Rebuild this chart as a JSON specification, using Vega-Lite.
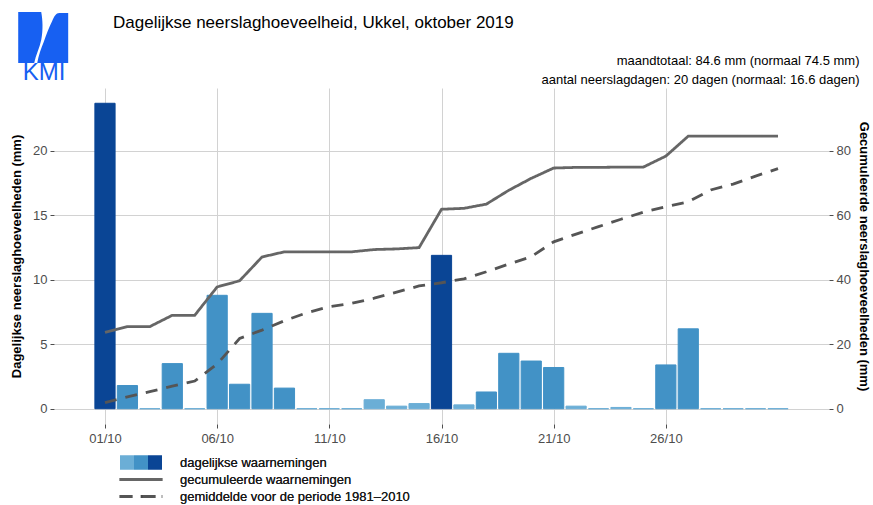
{
  "$schema": "https://vega.github.io/schema/vega-lite/v6.json",
  "width": 775,
  "height": 336,
  "autosize": {"type": "none"},
  "padding": {"left": 54, "top": 88, "right": 44, "bottom": 81},
  "background": "white",
  "title": {
    "text": "Dagelijkse neerslaghoeveelheid, Ukkel, oktober 2019",
    "anchor": "start",
    "frame": "group",
    "dx": 59,
    "dy": 3,
    "offset": -17,
    "fontSize": 17,
    "fontWeight": "normal",
    "font": "Liberation Sans",
    "color": "#000000"
  },
  "config": {
    "font": "Liberation Sans",
    "view": {"stroke": null},
    "axis": {
      "labelFont": "Liberation Sans",
      "labelFontSize": 13,
      "labelColor": "#4d4d4d",
      "tickColor": "#4d4d4d",
      "tickSize": 4,
      "domain": false,
      "titleFont": "Liberation Sans",
      "titleFontSize": 13,
      "titleFontWeight": "bold",
      "titleColor": "#000000",
      "gridColor": "#d2d2d2",
      "gridWidth": 1
    }
  },
  "datasets": {
    "dagen": [
      {"dag": 1, "neerslag": 23.7}, {"dag": 2, "neerslag": 1.8}, {"dag": 3, "neerslag": 0},
      {"dag": 4, "neerslag": 3.5}, {"dag": 5, "neerslag": 0}, {"dag": 6, "neerslag": 8.8},
      {"dag": 7, "neerslag": 1.9}, {"dag": 8, "neerslag": 7.4}, {"dag": 9, "neerslag": 1.6},
      {"dag": 10, "neerslag": 0}, {"dag": 11, "neerslag": 0}, {"dag": 12, "neerslag": 0},
      {"dag": 13, "neerslag": 0.7}, {"dag": 14, "neerslag": 0.2}, {"dag": 15, "neerslag": 0.4},
      {"dag": 16, "neerslag": 11.9}, {"dag": 17, "neerslag": 0.3}, {"dag": 18, "neerslag": 1.3},
      {"dag": 19, "neerslag": 4.3}, {"dag": 20, "neerslag": 3.7}, {"dag": 21, "neerslag": 3.2},
      {"dag": 22, "neerslag": 0.2}, {"dag": 23, "neerslag": 0}, {"dag": 24, "neerslag": 0.1},
      {"dag": 25, "neerslag": 0}, {"dag": 26, "neerslag": 3.4}, {"dag": 27, "neerslag": 6.2},
      {"dag": 28, "neerslag": 0}, {"dag": 29, "neerslag": 0}, {"dag": 30, "neerslag": 0},
      {"dag": 31, "neerslag": 0}
    ],
    "lijnen": [
      {"dag": 1, "reeks": "gecumuleerde waarnemingen", "waarde": 23.7},
      {"dag": 2, "reeks": "gecumuleerde waarnemingen", "waarde": 25.5},
      {"dag": 3, "reeks": "gecumuleerde waarnemingen", "waarde": 25.5},
      {"dag": 4, "reeks": "gecumuleerde waarnemingen", "waarde": 29.0},
      {"dag": 5, "reeks": "gecumuleerde waarnemingen", "waarde": 29.0},
      {"dag": 6, "reeks": "gecumuleerde waarnemingen", "waarde": 37.8},
      {"dag": 7, "reeks": "gecumuleerde waarnemingen", "waarde": 39.7},
      {"dag": 8, "reeks": "gecumuleerde waarnemingen", "waarde": 47.1},
      {"dag": 9, "reeks": "gecumuleerde waarnemingen", "waarde": 48.7},
      {"dag": 10, "reeks": "gecumuleerde waarnemingen", "waarde": 48.7},
      {"dag": 11, "reeks": "gecumuleerde waarnemingen", "waarde": 48.7},
      {"dag": 12, "reeks": "gecumuleerde waarnemingen", "waarde": 48.7},
      {"dag": 13, "reeks": "gecumuleerde waarnemingen", "waarde": 49.4},
      {"dag": 14, "reeks": "gecumuleerde waarnemingen", "waarde": 49.6},
      {"dag": 15, "reeks": "gecumuleerde waarnemingen", "waarde": 50.0},
      {"dag": 16, "reeks": "gecumuleerde waarnemingen", "waarde": 61.9},
      {"dag": 17, "reeks": "gecumuleerde waarnemingen", "waarde": 62.2},
      {"dag": 18, "reeks": "gecumuleerde waarnemingen", "waarde": 63.5},
      {"dag": 19, "reeks": "gecumuleerde waarnemingen", "waarde": 67.8},
      {"dag": 20, "reeks": "gecumuleerde waarnemingen", "waarde": 71.5},
      {"dag": 21, "reeks": "gecumuleerde waarnemingen", "waarde": 74.7},
      {"dag": 22, "reeks": "gecumuleerde waarnemingen", "waarde": 74.9},
      {"dag": 23, "reeks": "gecumuleerde waarnemingen", "waarde": 74.9},
      {"dag": 24, "reeks": "gecumuleerde waarnemingen", "waarde": 75.0},
      {"dag": 25, "reeks": "gecumuleerde waarnemingen", "waarde": 75.0},
      {"dag": 26, "reeks": "gecumuleerde waarnemingen", "waarde": 78.4},
      {"dag": 27, "reeks": "gecumuleerde waarnemingen", "waarde": 84.6},
      {"dag": 28, "reeks": "gecumuleerde waarnemingen", "waarde": 84.6},
      {"dag": 29, "reeks": "gecumuleerde waarnemingen", "waarde": 84.6},
      {"dag": 30, "reeks": "gecumuleerde waarnemingen", "waarde": 84.6},
      {"dag": 31, "reeks": "gecumuleerde waarnemingen", "waarde": 84.6},
      {"dag": 1, "reeks": "gemiddelde voor de periode 1981–2010", "waarde": 1.9},
      {"dag": 2, "reeks": "gemiddelde voor de periode 1981–2010", "waarde": 3.7},
      {"dag": 3, "reeks": "gemiddelde voor de periode 1981–2010", "waarde": 5.3},
      {"dag": 4, "reeks": "gemiddelde voor de periode 1981–2010", "waarde": 7.0},
      {"dag": 5, "reeks": "gemiddelde voor de periode 1981–2010", "waarde": 8.6},
      {"dag": 6, "reeks": "gemiddelde voor de periode 1981–2010", "waarde": 13.9},
      {"dag": 7, "reeks": "gemiddelde voor de periode 1981–2010", "waarde": 21.8},
      {"dag": 8, "reeks": "gemiddelde voor de periode 1981–2010", "waarde": 24.4},
      {"dag": 9, "reeks": "gemiddelde voor de periode 1981–2010", "waarde": 27.3},
      {"dag": 10, "reeks": "gemiddelde voor de periode 1981–2010", "waarde": 29.8},
      {"dag": 11, "reeks": "gemiddelde voor de periode 1981–2010", "waarde": 31.7},
      {"dag": 12, "reeks": "gemiddelde voor de periode 1981–2010", "waarde": 32.7},
      {"dag": 13, "reeks": "gemiddelde voor de periode 1981–2010", "waarde": 34.3},
      {"dag": 14, "reeks": "gemiddelde voor de periode 1981–2010", "waarde": 36.2},
      {"dag": 15, "reeks": "gemiddelde voor de periode 1981–2010", "waarde": 38.1},
      {"dag": 16, "reeks": "gemiddelde voor de periode 1981–2010", "waarde": 39.1},
      {"dag": 17, "reeks": "gemiddelde voor de periode 1981–2010", "waarde": 40.3},
      {"dag": 18, "reeks": "gemiddelde voor de periode 1981–2010", "waarde": 42.5},
      {"dag": 19, "reeks": "gemiddelde voor de periode 1981–2010", "waarde": 44.9},
      {"dag": 20, "reeks": "gemiddelde voor de periode 1981–2010", "waarde": 47.2},
      {"dag": 21, "reeks": "gemiddelde voor de periode 1981–2010", "waarde": 51.8},
      {"dag": 22, "reeks": "gemiddelde voor de periode 1981–2010", "waarde": 54.2},
      {"dag": 23, "reeks": "gemiddelde voor de periode 1981–2010", "waarde": 56.5},
      {"dag": 24, "reeks": "gemiddelde voor de periode 1981–2010", "waarde": 58.8},
      {"dag": 25, "reeks": "gemiddelde voor de periode 1981–2010", "waarde": 61.0},
      {"dag": 26, "reeks": "gemiddelde voor de periode 1981–2010", "waarde": 62.7},
      {"dag": 27, "reeks": "gemiddelde voor de periode 1981–2010", "waarde": 64.2},
      {"dag": 28, "reeks": "gemiddelde voor de periode 1981–2010", "waarde": 67.9},
      {"dag": 29, "reeks": "gemiddelde voor de periode 1981–2010", "waarde": 69.7},
      {"dag": 30, "reeks": "gemiddelde voor de periode 1981–2010", "waarde": 72.2},
      {"dag": 31, "reeks": "gemiddelde voor de periode 1981–2010", "waarde": 74.5}
    ]
  },
  "layer": [
    {
      "layer": [
        {
          "data": {"name": "dagen"},
          "mark": {"type": "bar", "width": 20.2, "strokeWidth": 1},
          "encoding": {
            "x": {
              "field": "dag", "type": "quantitative",
              "scale": {"domain": [-1.05, 33.05], "nice": false, "zero": false},
              "axis": {
                "orient": "bottom", "values": [1, 6, 11, 16, 21, 26],
                "labelExpr": "(datum.value < 10 ? '0' : '') + datum.value + '/10'",
                "title": null, "grid": true, "labelPadding": 4
              }
            },
            "y": {
              "field": "neerslag", "type": "quantitative",
              "scale": {"domain": [-1.185, 24.885], "nice": false, "zero": false},
              "axis": {
                "orient": "left", "values": [0, 5, 10, 15, 20],
                "title": "Dagelijkse neerslaghoeveelheden (mm)",
                "grid": true, "labelPadding": 3, "titlePadding": 9
              }
            },
            "color": {
              "field": "neerslag", "type": "quantitative",
              "scale": {"type": "threshold", "domain": [1, 10], "range": ["#6baed6", "#4292c6", "#0a4595"]},
              "legend": null
            },
            "stroke": {
              "field": "neerslag", "type": "quantitative",
              "scale": {"type": "threshold", "domain": [1, 10], "range": ["#6baed6", "#4292c6", "#0a4595"]},
              "legend": null
            }
          }
        },
        {
          "data": {"values": [{"logo": "KMI"}]},
          "mark": {"type": "point", "filled": true, "opacity": 1, "color": "#1760f2", "strokeWidth": 0,
            "shape": "M-0.98,-1L-0.078,-1C-0.02,-0.686,0,-0.294,-0.078,0.098C-0.137,0.412,-0.294,0.686,-0.353,1L-0.98,1Z M0.98,-0.961L0.98,1L-0.235,1C-0.176,0.686,-0.078,0.412,0.02,0.176C0.118,-0.098,0.235,-0.412,0.353,-0.647C0.431,-0.843,0.51,-0.961,0.627,-0.961Z",
            "size": 2601},
          "encoding": {
            "x": {"datum": -1.754, "type": "quantitative"},
            "y": {"datum": 28.8, "type": "quantitative"}
          }
        },
        {
          "data": {"values": [{"logo": "KMI"}]},
          "mark": {"type": "text", "color": "#1760f2", "fontSize": 24, "font": "Liberation Sans", "align": "center", "baseline": "alphabetic"},
          "encoding": {
            "x": {"datum": -1.72, "type": "quantitative"},
            "y": {"datum": 25.5, "type": "quantitative"},
            "text": {"field": "logo"}
          }
        }
      ]
    },
    {
      "data": {"name": "lijnen"},
      "mark": {"type": "line", "strokeWidth": 2.8, "strokeCap": "butt"},
      "encoding": {
        "x": {
          "field": "dag", "type": "quantitative",
          "scale": {"domain": [-1.05, 33.05], "nice": false, "zero": false},
          "axis": {
            "orient": "top", "labels": false, "ticks": false, "grid": false, "domain": false,
            "title": ["maandtotaal: 84.6 mm (normaal 74.5 mm)", "aantal neerslagdagen: 20 dagen (normaal: 16.6 dagen)"],
            "titleFontWeight": "normal", "titleFontSize": 13, "titleColor": "#000000",
            "titleAlign": "right", "titleX": 805, "titleLineHeight": 19, "titlePadding": 2
          }
        },
        "y": {
          "field": "waarde", "type": "quantitative",
          "scale": {"domain": [-4.74, 99.54], "nice": false, "zero": false},
          "axis": {
            "orient": "right", "values": [0, 20, 40, 60, 80],
            "title": "Gecumuleerde neerslaghoeveelheden (mm)",
            "grid": false, "labelPadding": 3, "titlePadding": 6
          }
        },
        "stroke": {
          "field": "reeks", "type": "nominal",
          "scale": {
            "domain": ["dagelijkse waarnemingen", "gecumuleerde waarnemingen", "gemiddelde voor de periode 1981–2010"],
            "range": ["#4292c6", "#666666", "#555555"]
          },
          "legend": {
            "title": null, "orient": "none", "legendX": 80.5, "legendY": 368, "direction": "vertical",
            "symbolSize": 196, "labelOffset": 32.5, "labelFontSize": 13, "labelColor": "#1a1a1a", "labelLimit": 400,
            "labelFont": "Liberation Sans", "rowPadding": 3, "padding": 0, "symbolStrokeWidth": 3,
            "encode": {
              "symbols": {
                "update": {
                  "shape": {"signal": "datum.value === 'dagelijkse waarnemingen' ? 'M-3,-1H3V1H-3Z' : 'M-3.05,0H3.05'"},
                  "fill": {"signal": "datum.value === 'dagelijkse waarnemingen' ? {gradient: 'linear', stops: [{offset: 0, color: '#6baed6'}, {offset: 0.333, color: '#6baed6'}, {offset: 0.333, color: '#4292c6'}, {offset: 0.667, color: '#4292c6'}, {offset: 0.667, color: '#0a4595'}, {offset: 1, color: '#0a4595'}]} : 'transparent'"},
                  "stroke": {"signal": "datum.value === 'gecumuleerde waarnemingen' ? '#3a3a3a' : (datum.value === 'dagelijkse waarnemingen' ? 'transparent' : '#474747')"},
                  "strokeDash": {"signal": "indexof(datum.value, 'gemiddelde') === 0 ? [13, 10] : [1, 0]"},
                  "strokeWidth": {"signal": "datum.value === 'dagelijkse waarnemingen' ? 0 : 3"},
                  "opacity": {"value": 1}
                }
              }
            }
          }
        },
        "strokeDash": {
          "field": "reeks", "type": "nominal",
          "scale": {
            "domain": ["dagelijkse waarnemingen", "gecumuleerde waarnemingen", "gemiddelde voor de periode 1981–2010"],
            "range": [[1, 0], [1, 0], [12, 9]]
          },
          "legend": {
            "title": null, "orient": "none", "legendX": 80.5, "legendY": 368, "direction": "vertical",
            "symbolSize": 196, "labelOffset": 32.5, "labelFontSize": 13, "labelColor": "#1a1a1a", "labelLimit": 400,
            "labelFont": "Liberation Sans", "rowPadding": 3, "padding": 0, "symbolStrokeWidth": 3,
            "encode": {
              "symbols": {
                "update": {
                  "shape": {"signal": "datum.value === 'dagelijkse waarnemingen' ? 'M-3,-1H3V1H-3Z' : 'M-3.05,0H3.05'"},
                  "fill": {"signal": "datum.value === 'dagelijkse waarnemingen' ? {gradient: 'linear', stops: [{offset: 0, color: '#6baed6'}, {offset: 0.333, color: '#6baed6'}, {offset: 0.333, color: '#4292c6'}, {offset: 0.667, color: '#4292c6'}, {offset: 0.667, color: '#0a4595'}, {offset: 1, color: '#0a4595'}]} : 'transparent'"},
                  "stroke": {"signal": "datum.value === 'gecumuleerde waarnemingen' ? '#3a3a3a' : (datum.value === 'dagelijkse waarnemingen' ? 'transparent' : '#474747')"},
                  "strokeDash": {"signal": "indexof(datum.value, 'gemiddelde') === 0 ? [13, 10] : [1, 0]"},
                  "strokeWidth": {"signal": "datum.value === 'dagelijkse waarnemingen' ? 0 : 3"},
                  "opacity": {"value": 1}
                }
              }
            }
          }
        }
      }
    }
  ],
  "resolve": {
    "scale": {"y": "independent"},
    "axis": {"x": "independent", "y": "independent"}
  }
}
